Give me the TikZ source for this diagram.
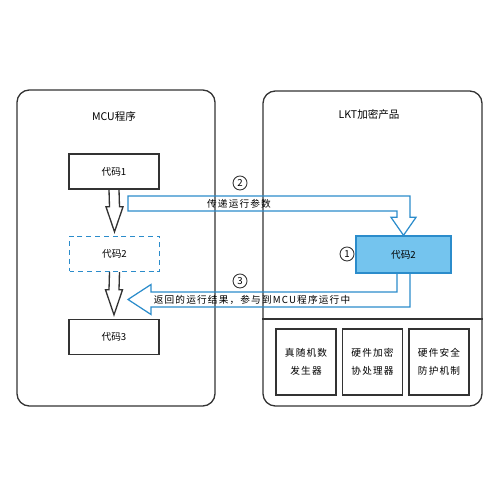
\documentclass[tikz,border=0pt]{standalone}
\usepackage{fontspec}
\setmainfont{Noto Sans CJK SC}
\newfontfamily\widefont[LetterSpace=12]{Noto Sans CJK SC}
\usetikzlibrary{calc, positioning}
\definecolor{cblue}{HTML}{2B8CCB}
\definecolor{clight}{HTML}{74C4EE}
\definecolor{cdark}{HTML}{333333}
\tikzset{
  every picture/.style={line width=0.75pt, font=\fontsize{5.5}{7}\selectfont},
  panel/.style={draw=cdark, rounded corners=7pt},
  codebox/.style={draw=cdark, minimum width=1.8cm, minimum height=0.7cm},
  unitbox/.style={draw=cdark, minimum width=1.2cm, minimum height=1.32cm, align=center, font=\fontsize{5.5}{10.5}\widefont},
  hollow/.style={draw=cdark, line join=miter},
  flow/.style={draw=cblue, line width=0.7pt},
  num/.style={circle, draw=cdark, line width=0.5pt, inner sep=0pt, minimum size=0.28cm},
  title/.style={font=\fontsize{6}{7}\selectfont},
  note/.style={font=\fontsize{5.5}{7}\widefont},
}

\begin{document}
\begin{tikzpicture}
  \useasboundingbox (0,0) rectangle (10,10);
  % two sides
  \node[panel, minimum width=3.96cm, minimum height=6.32cm] (mcu) at (2.32,5.04) {};
  \node[panel, minimum width=4.38cm, minimum height=6.30cm] (lkt) at (7.45,5.03) {};
  \coordinate (cut) at (0,3.62);
  \draw[cdark] (lkt.west |- cut) -- (lkt.east |- cut);
  \node[title] (mcut) at (2.28,7.68) {MCU程序};
  \node[title] (lktt) at (7.38,7.72) {LKT加密产品};
  % MCU program
  \node[codebox] (c1) at (2.28,6.57) {代码1};
  \node[codebox, draw=cblue, dash pattern=on 2.8pt off 2.2pt] (c2) at (2.29,4.92) {代码2};
  \node[codebox] (c3) at (2.28,3.26) {代码3};
  \foreach \a/\b in {c1/c2, c2/c3}
    \draw[hollow] ($(\a.south)+(-0.1,0)$) -- ($(\b.north)+(-0.1,0.58)$) -- ++(-0.07,0) -- ($(\b.north)+(0,0.08)$) -- ($(\b.north)+(0.17,0.58)$) -- ++(-0.07,0) -- ($(\a.south)+(0.1,0)$);
  % LKT product
  \node[codebox, fill=clight, draw=cblue, minimum width=1.9cm, minimum height=0.74cm] (c2b) at (8.07,4.91) {代码2};
  \foreach \t [count=\k] in {真随机数\\发生器, 硬件加密\\协处理器, 硬件安全\\防护机制}
    \node[unitbox] (u\k) at (4.79+1.33*\k,2.76) {\t};
  % call and return
  \coordinate (a2) at (2.56,6.08);
  \draw[flow] (a2) -| ($(c2b.north)+(0.13,0.36)$) -- ++(0.12,0) -- (c2b.north) -- ++(-0.25,0.36) -- ++(0.12,0) |- ($(a2)+(0,-0.3)$) -- cycle;
  \coordinate (a3) at (2.56,4.01);
  \draw[flow] ($(c2b.south)+(0.13,0)$) |- ($(a3)+(0.46,-0.15)$) -- ++(0,-0.15) -- (a3) -- ++(0.46,0.3) -- ++(0,-0.15) -| ($(c2b.south)+(-0.13,0)$);
  \node[num] (n2) at (4.8,6.34) {2};
  \node[num] (n3) at (4.8,4.38) {3};
  \node[num] (n1) at (6.94,4.92) {1};
  \node[note] (t2) at (4.78,5.92) {传递运行参数};
  \node[note] (t3) at (5.04,4.0) {返回的运行结果，参与到MCU程序运行中};
\end{tikzpicture}
\end{document}
